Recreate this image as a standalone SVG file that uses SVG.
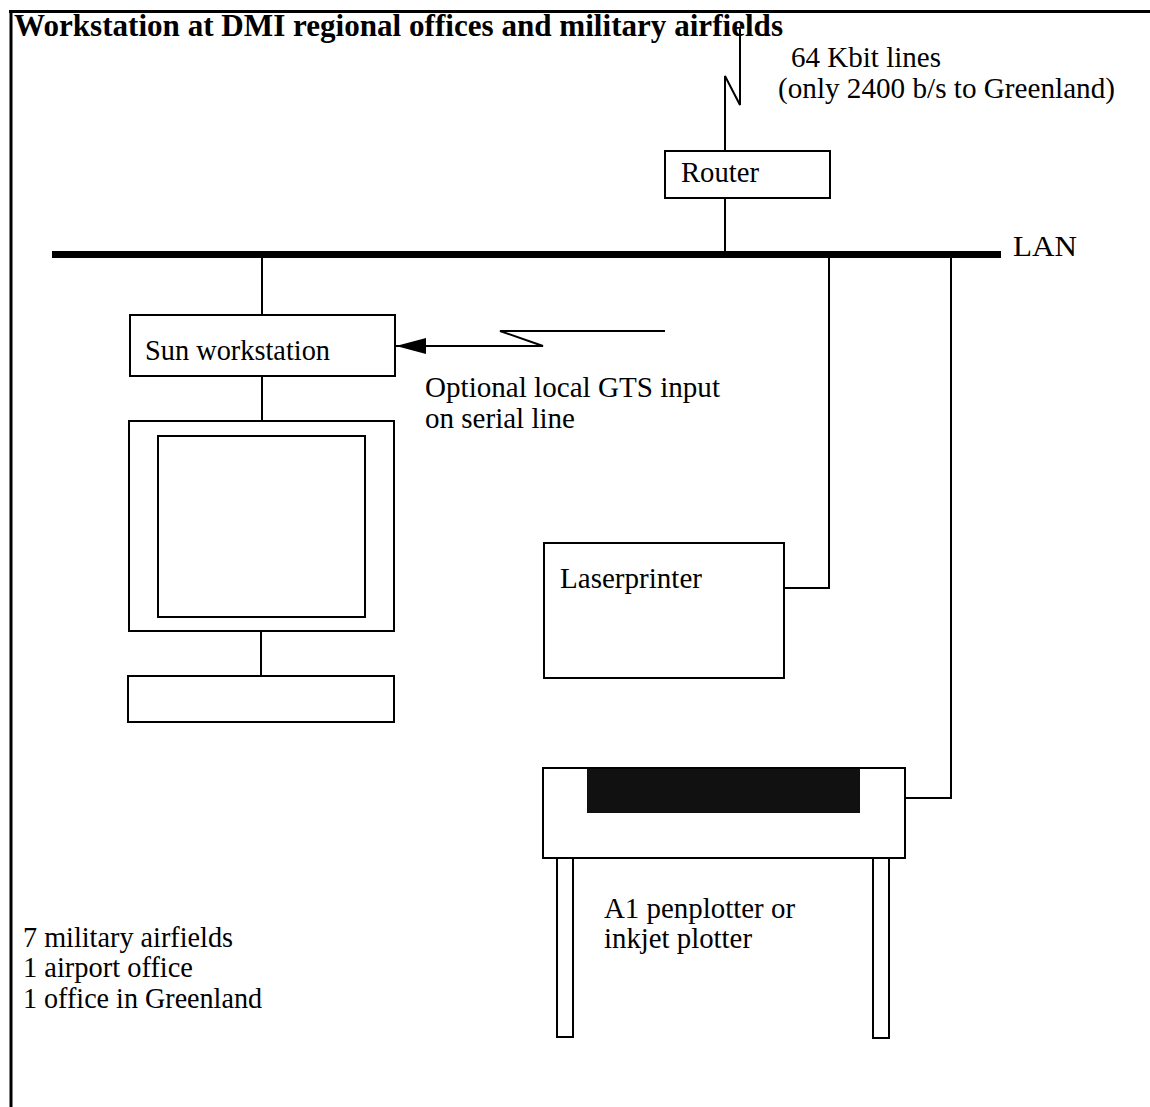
<svg xmlns="http://www.w3.org/2000/svg" width="1150" height="1107" viewBox="0 0 1150 1107">
<style>
  .t { font-family: "Liberation Serif", "Times New Roman", serif; font-size: 29px; fill: #000; }
  .title { font-family: "Liberation Serif", "Times New Roman", serif; font-size: 32px; font-weight: bold; fill: #000; }
  .box { fill: #fff; stroke: #000; stroke-width: 2; }
  .ln { fill: none; stroke: #000; stroke-width: 2; }
</style>
<defs>
  <marker id="arrow" viewBox="0 0 30 16" refX="30" refY="8" markerWidth="30" markerHeight="16" markerUnits="userSpaceOnUse" orient="auto">
    <path d="M0,0 L30,8 L0,16 z" fill="#000"/>
  </marker>
</defs>
<rect width="1150" height="1107" fill="#fff"/>

<g id="frame">
  <line x1="9" y1="11.5" x2="1150" y2="11.5" stroke="#000" stroke-width="3"/>
  <line x1="11" y1="10" x2="11" y2="1107" stroke="#000" stroke-width="3"/>
</g>

<text id="title" class="title" x="14" y="36" textLength="769" lengthAdjust="spacingAndGlyphs">Workstation at DMI regional offices and military airfields</text>

<g id="connectors">
  <rect id="lan-bus" x="52" y="251" width="949" height="7" fill="#000"/>
  <polyline class="ln" points="740,29 740,105 725,76 725,151"/>
  <line class="ln" x1="725" y1="198" x2="725" y2="252"/>
  <line class="ln" x1="262" y1="257" x2="262" y2="315"/>
  <line class="ln" x1="262" y1="376" x2="262" y2="421"/>
  <line class="ln" x1="261" y1="631" x2="261" y2="676"/>
  <polyline class="ln" points="829,257 829,588 784,588"/>
  <polyline class="ln" points="951,257 951,798 905,798"/>
  <polyline class="ln" points="665,331 500,331 543,346 396,346" marker-end="url(#arrow)"/>
</g>

<g id="wan-label">
  <text class="t" x="791" y="67" textLength="150" lengthAdjust="spacingAndGlyphs">64 Kbit lines</text>
  <text class="t" x="778" y="98" textLength="337" lengthAdjust="spacingAndGlyphs">(only 2400 b/s to Greenland)</text>
</g>

<g id="router">
  <rect class="box" x="665" y="151" width="165" height="47"/>
  <text class="t" x="681" y="182" textLength="78" lengthAdjust="spacingAndGlyphs">Router</text>
</g>

<g id="lan-label">
  <text class="t" x="1013" y="256" textLength="64" lengthAdjust="spacingAndGlyphs">LAN</text>
</g>

<g id="sun-workstation">
  <rect class="box" x="130" y="315" width="265" height="61"/>
  <text class="t" x="145" y="360" textLength="185" lengthAdjust="spacingAndGlyphs">Sun workstation</text>
</g>

<g id="gts-label">
  <text class="t" x="425" y="397" textLength="295" lengthAdjust="spacingAndGlyphs">Optional local GTS input</text>
  <text class="t" x="425" y="428" textLength="150" lengthAdjust="spacingAndGlyphs">on serial line</text>
</g>

<g id="monitor">
  <rect class="box" x="129" y="421" width="265" height="210"/>
  <rect class="box" x="158" y="436" width="207" height="181"/>
</g>

<g id="keyboard">
  <rect class="box" x="128" y="676" width="266" height="46"/>
</g>

<g id="laserprinter">
  <rect class="box" x="544" y="543" width="240" height="135"/>
  <text class="t" x="560" y="588" textLength="142" lengthAdjust="spacingAndGlyphs">Laserprinter</text>
</g>

<g id="plotter">
  <rect class="box" x="557" y="858" width="16" height="179"/>
  <rect class="box" x="873" y="858" width="16" height="180"/>
  <rect class="box" x="543" y="768" width="362" height="90"/>
  <rect x="587" y="769" width="273" height="44" fill="#111"/>
  <text class="t" x="604" y="918" textLength="191" lengthAdjust="spacingAndGlyphs">A1 penplotter or</text>
  <text class="t" x="604" y="948" textLength="148" lengthAdjust="spacingAndGlyphs">inkjet plotter</text>
</g>

<g id="sites-label">
  <text class="t" x="23" y="947" textLength="210" lengthAdjust="spacingAndGlyphs">7 military airfields</text>
  <text class="t" x="23" y="977" textLength="170" lengthAdjust="spacingAndGlyphs">1 airport office</text>
  <text class="t" x="23" y="1008" textLength="239" lengthAdjust="spacingAndGlyphs">1 office in Greenland</text>
</g>
</svg>
